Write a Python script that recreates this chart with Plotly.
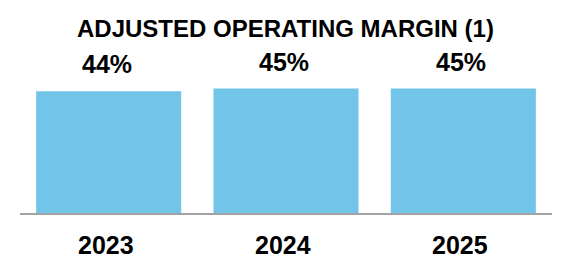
import plotly.graph_objects as go

categories = ["2023", "2024", "2025"]
margins = [44, 45, 45]
value_labels = ["44%", "45%", "45%"]
title_text = "ADJUSTED OPERATING MARGIN (1)"

BAR_COLOR = "#72C4E8"
FONT = "Liberation Sans, Arial, sans-serif"

fig = go.Figure()
fig.add_trace(go.Bar(x=categories, y=margins, marker_color=BAR_COLOR,
                     marker_line_width=0, hoverinfo="skip"))

T, B, L, R = 47, 67, 20, 20
plot_h = 280 - T - B

annotations = []
for i, (c, v, lab) in enumerate(zip(categories, margins, value_labels)):
    annotations.append(dict(x=i, y=v, xref="x", yref="y", text=lab, showarrow=False,
                            yanchor="middle", yshift=27, xshift=-2,
                            font=dict(family=FONT, size=25, color="black", weight="bold")))
    annotations.append(dict(x=i, y=0, xref="x", yref="y", text=c, showarrow=False,
                            yanchor="middle", yshift=-32, xshift=-3,
                            font=dict(family=FONT, size=25, color="black", weight="bold")))
annotations.append(dict(x=0.5, y=1 + (T - 29) / plot_h, xref="paper", yref="paper",
                        text=title_text, showarrow=False, yanchor="middle",
                        xshift=-1,
                        font=dict(family=FONT, size=24, color="black", weight="bold")))

fig.update_layout(
    width=572, height=280,
    margin=dict(t=T, b=B, l=L, r=R, pad=0),
    paper_bgcolor="white", plot_bgcolor="white",
    bargap=0.182,
    showlegend=False,
    annotations=annotations,
    xaxis=dict(type="category", range=[-0.5, len(categories) - 0.5], showticklabels=False,
               showline=True, linecolor="#A3A3A3", linewidth=2, ticks="",
               showgrid=False, zeroline=False, fixedrange=True),
    yaxis=dict(range=[0, 60], visible=False, showgrid=False, zeroline=False, fixedrange=True),
)

fig.write_html("out.html", config={"displayModeBar": False})
